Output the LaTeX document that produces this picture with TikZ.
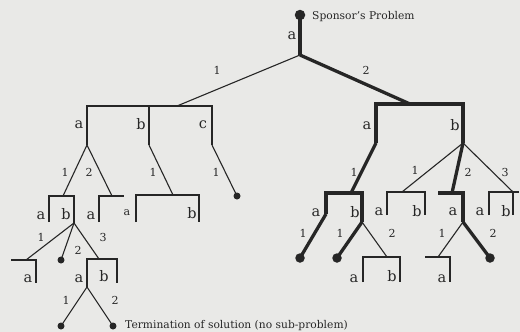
\documentclass[tikz,border=0pt]{standalone}
\usepackage{fontspec}
\setmainfont{DejaVu Serif}
\definecolor{ink}{HTML}{262626}
\definecolor{paper}{HTML}{E9E9E7}
\begin{document}
\begin{tikzpicture}[x=1pt,y=-1pt,
  fine/.style={draw=ink,line width=1.1pt,line join=miter},
  heavy/.style={draw=ink,line width=3.3pt,line join=miter},
  sdot/.style={circle,fill=ink,inner sep=0pt,minimum size=7pt},
  bdot/.style={circle,fill=ink,inner sep=0pt,minimum size=9.5pt},
  lett/.style={text=ink,inner sep=0pt,font=\fontsize{14.5}{14.5}\selectfont},
  slett/.style={text=ink,inner sep=0pt,font=\fontsize{11}{11}\selectfont},
  numl/.style={text=ink,inner sep=0pt,font=\fontsize{11}{11}\selectfont},
  capt/.style={text=ink,inner sep=0pt,anchor=west,font=\fontsize{10.7}{10.7}\selectfont}]
\fill[paper] (0,0) rectangle (520,332);
\useasboundingbox (0,0) rectangle (520,332);
% ---------- root ----------
\node[bdot,minimum size=10.5pt] (root) at (300,15) {};
\node[capt] (sp) at (312,17) {Sponsor's Problem};
\coordinate (r1) at (300,55);
\draw[heavy] (root.center) -- (r1);
\node[lett] (ra) at (292,36) {a};
\coordinate (Lm) at (177,106);
\coordinate (Rm) at (410,104);
\draw[fine] (r1) -- (Lm);
\draw[heavy] (r1) -- (Rm);
\node[numl] (n1) at (217,70) {1};
\node[numl] (n2) at (366,70) {2};
% ---------- left sub-tree ----------
\coordinate (La) at (87,106); \coordinate (Lb) at (149,106); \coordinate (Lc) at (212,106);
\coordinate (La0) at (87,145); \coordinate (Lb0) at (149,145); \coordinate (Lc0) at (212,145);
\draw[fine] (La0) -- (La) -- (Lc) -- (Lc0);
\draw[fine] (Lb) -- (Lb0);
\node[lett] (la) at (79,125) {a};
\node[lett] (lb) at (141,124) {b};
\node[lett] (lc) at (203,125) {c};
% a branches
\coordinate (A1) at (63,196); \coordinate (A2) at (112,196);
\draw[fine] (A1) -- (La0) -- (A2);
\node[numl] (an1) at (65,172) {1};
\node[numl] (an2) at (89,172) {2};
\coordinate (A1l) at (49,196); \coordinate (A1r) at (74,196);
\coordinate (A1lb) at (49,222); \coordinate (A1rb) at (74,223);
\draw[fine] (A1lb) -- (A1l) -- (A1r) -- (A1rb);
\node[lett] (a1a) at (41,216) {a};
\node[lett] (a1b) at (66,214) {b};
\coordinate (A2l) at (99,196); \coordinate (A2r) at (124,196); \coordinate (A2lb) at (99,222);
\draw[fine] (A2lb) -- (A2l) -- (A2r);
\node[lett] (a2a) at (91,216) {a};
% b branch
\coordinate (B1) at (173,195);
\draw[fine] (Lb0) -- (B1);
\node[numl] (bn1) at (153,172) {1};
\coordinate (B1l) at (136,195); \coordinate (B1r) at (199,195);
\coordinate (B1lb) at (136,222); \coordinate (B1rb) at (199,222);
\draw[fine] (B1lb) -- (B1l) -- (B1r) -- (B1rb);
\node[slett] (b1a) at (127,213) {a};
\node[lett] (b1b) at (192,213) {b};
% c branch
\node[sdot] (cdot) at (237,196) {};
\draw[fine] (Lc0) -- (cdot.center);
\node[numl] (cn1) at (216,172) {1};
% children of a-1 / b
\coordinate (D1) at (26,260); \coordinate (D3) at (99,259);
\node[sdot] (ddot) at (61,260) {};
\draw[fine] (A1rb) -- (D1);
\draw[fine] (A1rb) -- (ddot.center);
\draw[fine] (A1rb) -- (D3);
\node[numl] (dn1) at (41,237) {1};
\node[numl] (dn2) at (78,250) {2};
\node[numl] (dn3) at (103,237) {3};
\coordinate (D1l) at (11,260); \coordinate (D1r) at (36,260); \coordinate (D1rb) at (36,283);
\draw[fine] (D1l) -- (D1r) -- (D1rb);
\node[lett] (d1a) at (28,279) {a};
\coordinate (D3l) at (87,259); \coordinate (D3r) at (117,259);
\coordinate (D3lb) at (87,287); \coordinate (D3rb) at (117,283);
\draw[fine] (D3lb) -- (D3l) -- (D3r) -- (D3rb);
\node[lett] (d3a) at (79,279) {a};
\node[lett] (d3b) at (104,276) {b};
\node[sdot] (e1) at (61,326) {};
\node[sdot] (e2) at (113,326) {};
\draw[fine] (e1.center) -- (D3lb) -- (e2.center);
\node[numl] (en1) at (66,300) {1};
\node[numl] (en2) at (115,300) {2};
\node[capt] (term) at (125,326) {Termination of solution (no sub-problem)};
% ---------- right sub-tree ----------
\coordinate (Ra) at (376,104); \coordinate (Rb) at (463,104);
\coordinate (Ra0) at (376,143); \coordinate (Rb0) at (463,143);
\draw[heavy] (Ra0) -- (Ra) -- (Rb) -- (Rb0);
\node[lett] (rla) at (367,126) {a};
\node[lett] (rlb) at (455,125) {b};
% a-1
\coordinate (P1) at (351,193);
\draw[heavy] (Ra0) -- (P1);
\node[numl] (pn1) at (354,172) {1};
\coordinate (P1l) at (326,193); \coordinate (P1r) at (362,193);
\coordinate (P1lb) at (326,214); \coordinate (P1rb) at (362,222);
\draw[heavy] (P1lb) -- (P1l) -- (P1r) -- (P1rb);
\node[lett] (p1a) at (316,213) {a};
\node[lett] (p1b) at (355,212) {b};
\node[bdot] (pd1) at (300,258) {};
\draw[heavy] (P1lb) -- (pd1.center);
\node[numl] (pdn1) at (303,233) {1};
\node[bdot] (pd2) at (337,258) {};
\draw[heavy] (P1rb) -- (pd2.center);
\node[numl] (pdn2) at (340,233) {1};
\coordinate (Q2) at (387,257);
\draw[fine] (P1rb) -- (Q2);
\node[numl] (qn2) at (392,233) {2};
\coordinate (Q2l) at (363,257); \coordinate (Q2r) at (400,257);
\coordinate (Q2lb) at (363,282); \coordinate (Q2rb) at (400,282);
\draw[fine] (Q2lb) -- (Q2l) -- (Q2r) -- (Q2rb);
\node[lett] (q2a) at (354,279) {a};
\node[lett] (q2b) at (392,276) {b};
% b branches
\coordinate (S1) at (402,192); \coordinate (S2) at (452,193); \coordinate (S3) at (513,192);
\draw[fine] (Rb0) -- (S1);
\draw[heavy] (Rb0) -- (S2);
\draw[fine] (Rb0) -- (S3);
\node[numl] (sn1) at (415,170) {1};
\node[numl] (sn2) at (468,172) {2};
\node[numl] (sn3) at (505,172) {3};
\coordinate (S1l) at (387,192); \coordinate (S1r) at (425,192);
\coordinate (S1lb) at (387,215); \coordinate (S1rb) at (425,215);
\draw[fine] (S1lb) -- (S1l) -- (S1r) -- (S1rb);
\node[lett] (s1a) at (379,212) {a};
\node[lett] (s1b) at (417,211) {b};
\coordinate (S2l) at (438,193); \coordinate (S2r) at (463,193); \coordinate (S2rb) at (463,222);
\draw[heavy] (S2l) -- (S2r) -- (S2rb);
\node[lett] (s2a) at (453,212) {a};
\coordinate (T1) at (438,257);
\draw[fine] (S2rb) -- (T1);
\node[numl] (tn1) at (442,233) {1};
\node[bdot] (td2) at (490,258) {};
\draw[heavy] (S2rb) -- (td2.center);
\node[numl] (tn2) at (493,233) {2};
\coordinate (T1l) at (425,257); \coordinate (T1r) at (450,257); \coordinate (T1rb) at (450,282);
\draw[fine] (T1l) -- (T1r) -- (T1rb);
\node[lett] (t1a) at (442,279) {a};
\coordinate (S3l) at (489,192); \coordinate (S3r) at (519,192);
\coordinate (S3lb) at (489,215); \coordinate (S3m) at (513,192); \coordinate (S3mb) at (513,215);
\draw[fine] (S3lb) -- (S3l) -- (S3r);
\draw[fine] (S3m) -- (S3mb);
\node[lett] (s3a) at (480,212) {a};
\node[lett] (s3b) at (506,211) {b};
\end{tikzpicture}
\end{document}
